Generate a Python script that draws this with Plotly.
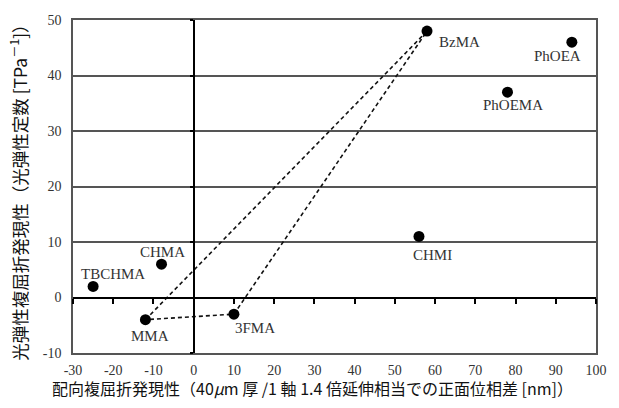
import plotly.graph_objects as go

# Polymer data: orientation birefringence (x) vs photoelastic coefficient (y)
names = ["BzMA", "PhOEA", "PhOEMA", "CHMI", "CHMA", "TBCHMA", "MMA", "3FMA"]
orient_biref = [58, 94, 78, 56, -8, -25, -12, 10]
photoelastic = [48, 46, 37, 11, 6, 2, -4, -3]

# Triangle of copolymer region: MMA -> BzMA -> 3FMA -> MMA
tri_names = ["MMA", "BzMA", "3FMA", "MMA"]

# Label offsets (px) and anchors per polymer
label_pos = {
    "BzMA":   (10, -11, "left", "middle"),
    "PhOEA":  (-14, -14, "center", "middle"),
    "PhOEMA": (6, -13, "center", "middle"),
    "CHMI":   (14, -19, "center", "middle"),
    "CHMA":   (1, 12, "center", "middle"),
    "TBCHMA": (20, 12, "center", "middle"),
    "MMA":    (5, -16, "center", "middle"),
    "3FMA":   (21, -14, "center", "middle"),
}

x_ticks = [-30, -20, -10, 0, 10, 20, 30, 40, 50, 60, 70, 80, 90, 100]
y_ticks = [-10, 0, 10, 20, 30, 40, 50]

serif = "Liberation Serif"
cjk = "Noto Sans CJK JP"

lookup = dict(zip(names, zip(orient_biref, photoelastic)))

fig = go.Figure()
fig.add_trace(go.Scatter(
    x=[lookup[n][0] for n in tri_names],
    y=[lookup[n][1] for n in tri_names],
    mode="lines",
    line=dict(color="#111", width=1.6, dash="4px,3px"),
    hoverinfo="skip",
))
fig.add_trace(go.Scatter(
    x=orient_biref, y=photoelastic, mode="markers",
    marker=dict(color="#000", size=11),
    text=names,
))

for n, (xv, yv) in lookup.items():
    dx, dy, xa, ya = label_pos[n]
    fig.add_annotation(
        x=xv, y=yv, text=n, showarrow=False,
        xshift=dx, yshift=dy, xanchor=xa, yanchor=ya,
        font=dict(family=serif, size=15, color="#333"),
    )

axis_line = "#555"
fig.update_layout(
    width=619, height=408,
    margin=dict(l=73, r=15, t=20, b=55),
    paper_bgcolor="white", plot_bgcolor="white",
    showlegend=False,
    xaxis=dict(
        range=[-30, 100], tickvals=x_ticks,
        ticktext=[str(v) for v in x_ticks],
        showgrid=False, zeroline=False,
        showline=True, mirror=True, linecolor=axis_line, linewidth=1.5,
        ticks="", ticklabelstandoff=3,
        tickfont=dict(family=serif, size=14, color="#333"),
    ),
    yaxis=dict(
        range=[-10, 50], tickvals=y_ticks,
        ticktext=[str(v) for v in y_ticks],
        showgrid=True, gridcolor=axis_line, gridwidth=1.5,
        zeroline=False,
        showline=True, mirror=True, linecolor=axis_line, linewidth=1.5,
        ticks="", ticklabelstandoff=7,
        tickfont=dict(family=serif, size=14, color="#333"),
    ),
    # Axis through y = 0 with downward ticks
    xaxis2=dict(
        overlaying="x", anchor="free", position=10 / 60,
        range=[-30, 100], tickvals=x_ticks, showticklabels=False,
        showline=True, linecolor="#000", linewidth=2.2,
        ticks="outside", ticklen=5, tickwidth=1.5, tickcolor="#000",
        showgrid=False, zeroline=False,
    ),
    # Axis through x = 0 with short ticks
    yaxis2=dict(
        overlaying="y", anchor="free", position=30 / 130,
        range=[-10, 50], tickvals=y_ticks, showticklabels=False,
        showline=True, linecolor="#000", linewidth=2.2,
        ticks="outside", ticklen=3, tickwidth=1.5, tickcolor="#000",
        showgrid=False, zeroline=False,
    ),
)
# placeholder trace so the overlay axes are drawn
fig.add_trace(go.Scatter(x=[0], y=[0], xaxis="x2", yaxis="y2", mode="markers",
                         marker=dict(size=1, opacity=0),
                         showlegend=False, hoverinfo="skip"))

fig.add_annotation(
    xref="paper", yref="paper", x=0.458, y=-0.105,
    text="配向複屈折発現性（40<i>μ</i>m 厚 /1 軸 1.4 倍延伸相当での正面位相差 [nm]）",
    showarrow=False, xanchor="center", yanchor="middle",
    font=dict(family=cjk, size=16, color="#111"),
)
fig.add_annotation(
    xref="paper", yref="paper", x=-0.104, y=0.495,
    text="光弾性複屈折発現性（光弾性定数 [TPa<sup>－1</sup>]）",
    textangle=-90, showarrow=False, xanchor="center", yanchor="middle",
    font=dict(family=cjk, size=17.5, color="#111"),
)

fig.write_html("out.html")
